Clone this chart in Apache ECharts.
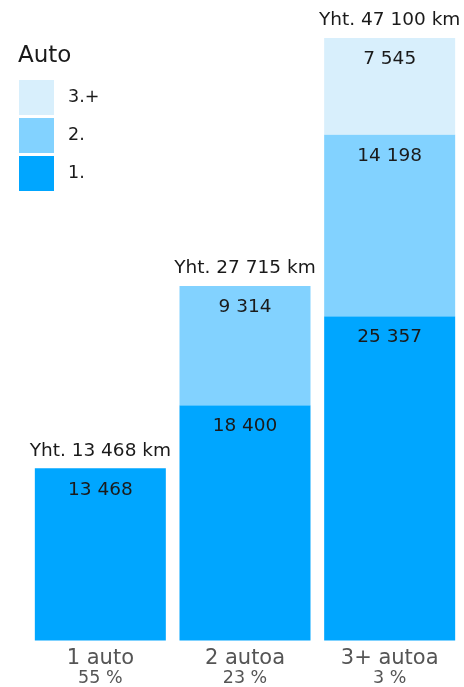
<!DOCTYPE html>
<html>
<head>
<meta charset="utf-8">
<script src="https://cdn.jsdelivr.net/npm/echarts@6/dist/echarts.min.js"></script>
<style>
  html, body { margin: 0; padding: 0; background: #fff; }
  #chart { width: 464px; height: 687px; }
</style>
</head>
<body>
<div id="chart"></div>
<script>
// data
const categories = ['1 auto', '2 autoa', '3+ autoa'];
const shares = ['55 %', '23 %', '3 %'];
const car1 = [13468, 18400, 25357];
const car2 = [null, 9314, 14198];
const car3 = [null, null, 7545];
const totals = [13468, 27715, 47100];

const colors = ['#00A6FF', '#82D2FF', '#D8EFFC'];
const font = 'DejaVu Sans, Verdana, sans-serif';

// 13468 -> "13 468"
const fmt = v => String(v).replace(/\B(?=(\d{3})+(?!\d))/g, ' ');

const segLabel = {
    show: true,
    position: 'insideTop',
    distance: 12,
    fontFamily: font,
    fontSize: 18.5,
    color: '#1a1a1a',
    formatter: p => fmt(p.value)
};

const chart = echarts.init(document.getElementById('chart'));

const option = {
    animation: false,
    title: {
        text: 'Auto',
        left: 18,
        top: 45,
        padding: 0,
        textStyle: { fontFamily: font, fontSize: 23, fontWeight: 'normal', color: '#1a1a1a' }
    },
    legend: {
        data: ['3.+', '2.', '1.'],
        orient: 'vertical',
        left: 19,
        top: 80,
        padding: 0,
        itemWidth: 35,
        itemHeight: 35,
        itemGap: 3,
        icon: 'rect',
        selectedMode: false,
        textStyle: { fontFamily: font, fontSize: 17.5, color: '#1a1a1a', padding: [0, 0, 0, 9] }
    },
    grid: { left: 28, right: 2, top: 38, bottom: 44 },
    xAxis: {
        type: 'category',
        data: categories,
        axisLine: { show: false },
        axisTick: { show: false },
        axisLabel: {
            margin: 8,
            formatter: (v, i) => '{a|' + v + '}\n{b|' + shares[i] + '}',
            rich: {
                a: { fontFamily: font, fontSize: 21, color: '#555', lineHeight: 21 },
                b: { fontFamily: font, fontSize: 17.5, color: '#555', lineHeight: 17 }
            }
        }
    },
    yAxis: {
        type: 'value',
        min: 0,
        max: 47100,
        show: false,
        splitLine: { show: false }
    },
    series: [
        { name: '1.', type: 'bar', stack: 'km', barWidth: 131, data: car1, itemStyle: { color: colors[0] }, label: segLabel },
        { name: '2.', type: 'bar', stack: 'km', data: car2, itemStyle: { color: colors[1] }, label: segLabel },
        { name: '3.+', type: 'bar', stack: 'km', data: car3, itemStyle: { color: colors[2] }, label: segLabel },
        {
            name: 'total', type: 'bar', stack: 'km',
            data: totals.map(() => 0),
            itemStyle: { color: 'transparent' },
            label: {
                show: true,
                position: 'top',
                distance: 8,
                fontFamily: font,
                fontSize: 18.5,
                color: '#1a1a1a',
                formatter: p => 'Yht. ' + fmt(totals[p.dataIndex]) + ' km'
            }
        }
    ]
};

chart.setOption(option);
</script>
</body>
</html>
